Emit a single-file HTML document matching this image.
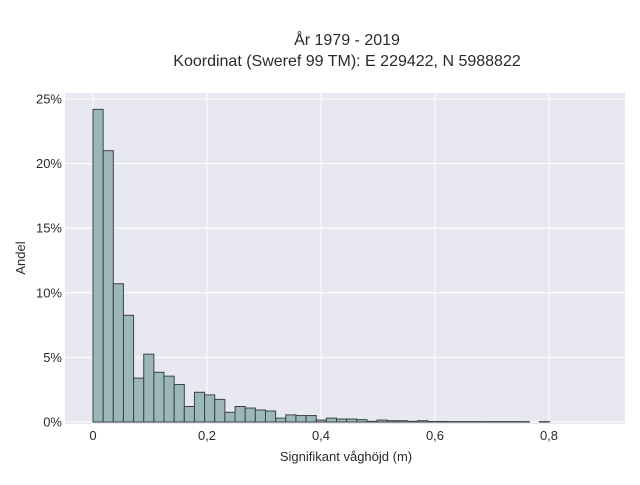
<!DOCTYPE html>
<html><head><meta charset="utf-8"><style>
body{margin:0;background:#fff;font-family:"Liberation Sans",sans-serif;}
svg text{font-family:"Liberation Sans",sans-serif;fill:#2a2a2a;}
</style></head><body>
<svg id="chart" width="640" height="480" viewBox="0 0 640 480">
<rect x="0" y="0" width="640" height="480" fill="#fff"/>
<rect x="65" y="93" width="560" height="331" fill="#e8e8f0"/>
<g id="grid"></g><g id="bars"></g><g id="ticks"></g>
<text x="347" y="45" text-anchor="middle" font-size="16">År 1979 - 2019</text>
<text x="347" y="66" text-anchor="middle" font-size="16">Koordinat (Sweref 99 TM): E 229422, N 5988822</text>
<text x="346" y="461" text-anchor="middle" font-size="13">Signifikant våghöjd (m)</text>
<text transform="translate(25,258) rotate(-90)" text-anchor="middle" font-size="13">Andel</text>
</svg>
<script>
const binWidth = 0.0178;
const shares = [24.2,21.0,10.7,8.26,3.4,5.25,3.85,3.55,2.9,1.2,2.3,2.1,1.75,0.75,1.2,1.08,0.93,0.85,0.3,0.55,0.5,0.5,0.15,0.3,0.23,0.23,0.18,0.05,0.15,0.1,0.1,0.05,0.1,0.04,0.04,0.03,0.03,0.03,0.03,0.03,0.03,0.03,0.03,0,0.03,0,0,0,0,0];
const xTicks = [0,0.2,0.4,0.6,0.8];
const xTickLabels = ["0","0,2","0,4","0,6","0,8"];
const yTicks = [0,5,10,15,20,25];
const yTickLabels = ["0%","5%","10%","15%","20%","25%"];
const NS="http://www.w3.org/2000/svg";
const X = v => 93 + v*570;
const Y = v => 422 - v*12.92;
function mk(tag, attrs, parent){const e=document.createElementNS(NS,tag);for(const k in attrs)e.setAttribute(k,attrs[k]);document.getElementById(parent).appendChild(e);return e;}
xTicks.forEach((t,i)=>{
  const l=mk('line',{x1:X(t),x2:X(t),y1:93,y2:424,stroke:'#fff','stroke-width':1},'grid');
  
  
  const tx=mk('text',{x:X(t),y:440,'text-anchor':'middle','font-size':13},'ticks');
  tx.textContent=xTickLabels[i];
  
  
});
yTicks.forEach((t,i)=>{
  const l=mk('line',{x1:65,x2:625,y1:Y(t),y2:Y(t),stroke:'#fff','stroke-width':1},'grid');
  
  
  const tx=mk('text',{x:62,y:Y(t)+4.5,'text-anchor':'end','font-size':13},'ticks');
  tx.textContent=yTickLabels[i];
  
  
});
shares.forEach((v,i)=>{
  if(v<=0) return;
  const x0=X(i*binWidth), x1=X((i+1)*binWidth);
  const r=mk('rect',{x:x0,y:Y(v),width:x1-x0,height:Y(0)-Y(v),fill:'#9bb7b7',stroke:'#3c4444','stroke-width':1},'bars');
  
  
});
</script>
</body></html>
